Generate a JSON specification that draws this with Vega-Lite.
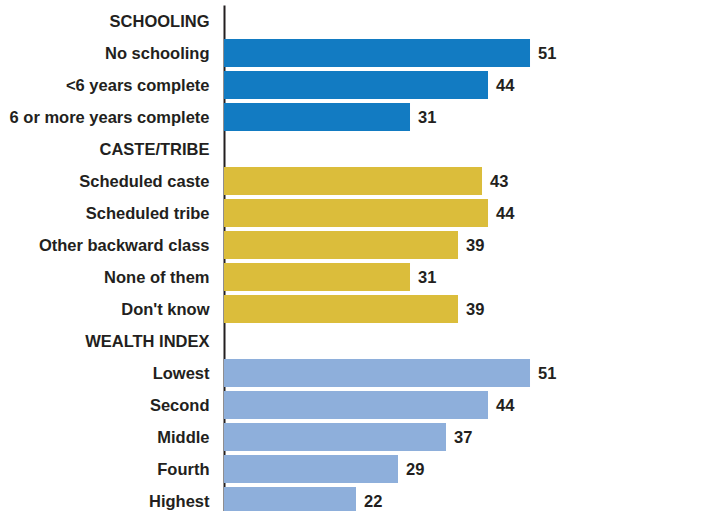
{
  "$schema": "https://vega.github.io/schema/vega-lite/v6.json",
  "width": 497,
  "height": 506,
  "autosize": {"type": "none"},
  "padding": {"left": 224, "top": 5, "right": 0, "bottom": 0},
  "background": "white",
  "config": {"view": {"stroke": null}},
  "data": {
    "values": [
      {"order": 0, "label": "SCHOOLING", "group": "Schooling", "value": null},
      {"order": 1, "label": "No schooling", "group": "Schooling", "value": 51},
      {"order": 2, "label": "<6 years complete", "group": "Schooling", "value": 44},
      {"order": 3, "label": "6 or more years complete", "group": "Schooling", "value": 31},
      {"order": 4, "label": "CASTE/TRIBE", "group": "Caste", "value": null},
      {"order": 5, "label": "Scheduled caste", "group": "Caste", "value": 43},
      {"order": 6, "label": "Scheduled tribe", "group": "Caste", "value": 44},
      {"order": 7, "label": "Other backward class", "group": "Caste", "value": 39},
      {"order": 8, "label": "None of them", "group": "Caste", "value": 31},
      {"order": 9, "label": "Don't know", "group": "Caste", "value": 39},
      {"order": 10, "label": "WEALTH INDEX", "group": "Wealth", "value": null},
      {"order": 11, "label": "Lowest", "group": "Wealth", "value": 51},
      {"order": 12, "label": "Second", "group": "Wealth", "value": 44},
      {"order": 13, "label": "Middle", "group": "Wealth", "value": 37},
      {"order": 14, "label": "Fourth", "group": "Wealth", "value": 29},
      {"order": 15, "label": "Highest", "group": "Wealth", "value": 22}
    ]
  },
  "encoding": {
    "y": {
      "field": "label",
      "type": "nominal",
      "scale": {
        "domain": ["SCHOOLING", "No schooling", "<6 years complete", "6 or more years complete", "CASTE/TRIBE", "Scheduled caste", "Scheduled tribe", "Other backward class", "None of them", "Don't know", "WEALTH INDEX", "Lowest", "Second", "Middle", "Fourth", "Highest"],
        "range": [0, 512],
        "paddingInner": 0.125,
        "paddingOuter": 0.0625
      },
      "axis": {
        "title": null,
        "ticks": false,
        "domain": true,
        "domainColor": "#231f20",
        "domainWidth": 2,
        "labelFont": "Liberation Sans",
        "labelFontWeight": "bold",
        "labelFontSize": 16.5,
        "labelColor": "#231f20",
        "labelPadding": 15,
        "labelOffset": 1,
        "labelLimit": 300
      }
    },
    "x": {
      "field": "value",
      "type": "quantitative",
      "scale": {"domain": [0, 82.83], "nice": false, "zero": true},
      "axis": null
    }
  },
  "layer": [
    {
      "mark": {"type": "bar"},
      "transform": [{"filter": "datum.value != null"}],
      "encoding": {
        "color": {
          "field": "group",
          "type": "nominal",
          "scale": {"domain": ["Schooling", "Caste", "Wealth"], "range": ["#127bc2", "#dbbd3b", "#8eafdb"]},
          "legend": null
        }
      }
    },
    {
      "mark": {"type": "text", "align": "left", "dx": 8, "dy": 1, "font": "Liberation Sans", "fontWeight": "bold", "fontSize": 16.5, "color": "#231f20"},
      "transform": [{"filter": "datum.value != null"}],
      "encoding": {
        "text": {"field": "value", "type": "quantitative"}
      }
    }
  ]
}
